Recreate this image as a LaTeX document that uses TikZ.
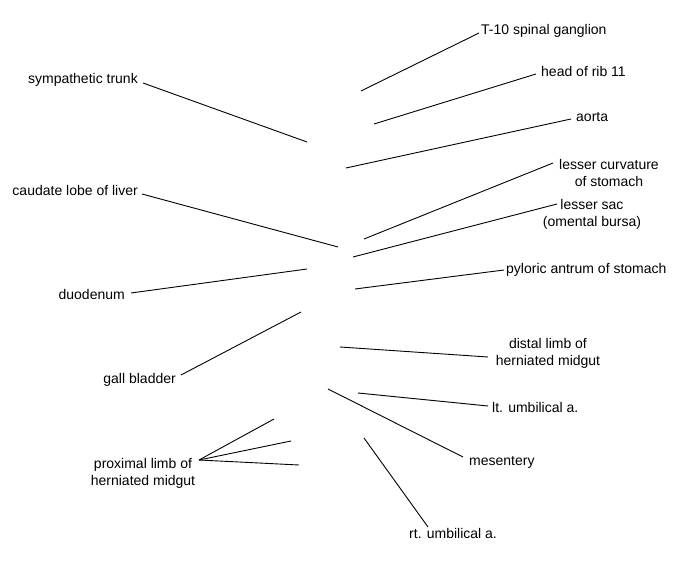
\documentclass[tikz,border=0pt]{standalone}
\usepackage{fontspec}
\setmainfont{Liberation Sans}
\begin{document}
\begin{tikzpicture}[x=1pt,y=-1pt,
  lbl/.style={font=\fontsize{14}{17}\selectfont, inner sep=0pt},
  ln/.style={line width=0.9pt, black}]
\useasboundingbox (0,0) rectangle (675,580);
% right-side labels
\node[lbl, anchor=base west] (t10) at (481,35) {T-10 spinal ganglion};
\node[lbl, anchor=base west] (rib) at (541,77) {head of rib 11};
\node[lbl, anchor=base west] (aorta) at (576,122) {aorta};
\node[lbl, anchor=north, align=center] (lc) at (609,159) {lesser curvature\\of stomach};
\node[lbl, anchor=north, align=center] (ls) at (592,199) {lesser sac\\(omental bursa)};
\node[lbl, anchor=base west] (pyl) at (506,273) {pyloric antrum of stomach};
\node[lbl, anchor=north, align=center] (dl) at (548,338) {distal limb of\\herniated midgut};
\node[lbl, anchor=base west] (ltu) at (492,412) {lt. umbilical a.};
\node[lbl, anchor=base west] (mes) at (469,465) {mesentery};
\node[lbl, anchor=base west] (rtu) at (409,538) {rt. umbilical a.};
% left-side labels
\node[lbl, anchor=base east] (sym) at (138,84) {sympathetic trunk};
\node[lbl, anchor=base east] (cau) at (138,196) {caudate lobe of liver};
\node[lbl, anchor=base east] (duo) at (125,300) {duodenum};
\node[lbl, anchor=base east] (gall) at (176,383) {gall bladder};
\node[lbl, anchor=north, align=center] (pl) at (143,458) {proximal limb of\\herniated midgut};
% pointer ends
\coordinate (t10p) at (361,91);
\coordinate (ribp) at (374,124);
\coordinate (aortap) at (346,168);
\coordinate (lcp) at (364,239);
\coordinate (lsp) at (353,257);
\coordinate (pylp) at (355,289);
\coordinate (dlp) at (340,347);
\coordinate (ltup) at (358,393);
\coordinate (mesp) at (328,389);
\coordinate (rtup) at (364,438);
\coordinate (symp) at (307,142);
\coordinate (caup) at (338,247);
\coordinate (duop) at (307,269);
\coordinate (gallp) at (301,312);
\coordinate (pla) at (274,419);
\coordinate (plb) at (291,441);
\coordinate (plc) at (299,465);
% connectors
\draw[ln] ([shift={(-2,-2)}]t10.base west) -- (t10p);
\draw[ln] ([shift={(-5,-3)}]rib.base west) -- (ribp);
\draw[ln] ([shift={(-5,-3)}]aorta.base west) -- (aortap);
\draw[ln] ([shift={(-56,4)}]lc.north) -- (lcp);
\draw[ln] ([shift={(-35,5)}]ls.north) -- (lsp);
\draw[ln] ([shift={(-2,-3)}]pyl.base west) -- (pylp);
\draw[ln] ([shift={(-60,19)}]dl.north) -- (dlp);
\draw[ln] ([shift={(-4,-6)}]ltu.base west) -- (ltup);
\draw[ln] ([shift={(-6,-8)}]mes.base west) -- (mesp);
\draw[ln] ([shift={(19,-11)}]rtu.base west) -- (rtup);
\draw[ln] ([shift={(5,-1)}]sym.base east) -- (symp);
\draw[ln] ([shift={(4,-2)}]cau.base east) -- (caup);
\draw[ln] ([shift={(6,-7)}]duo.base east) -- (duop);
\draw[ln] ([shift={(5,-8)}]gall.base east) -- (gallp);
\draw[ln] ([shift={(56,2)}]pl.north) -- (pla);
\draw[ln] ([shift={(56,2)}]pl.north) -- (plb);
\draw[ln] ([shift={(56,2)}]pl.north) -- (plc);
\end{tikzpicture}
\end{document}
